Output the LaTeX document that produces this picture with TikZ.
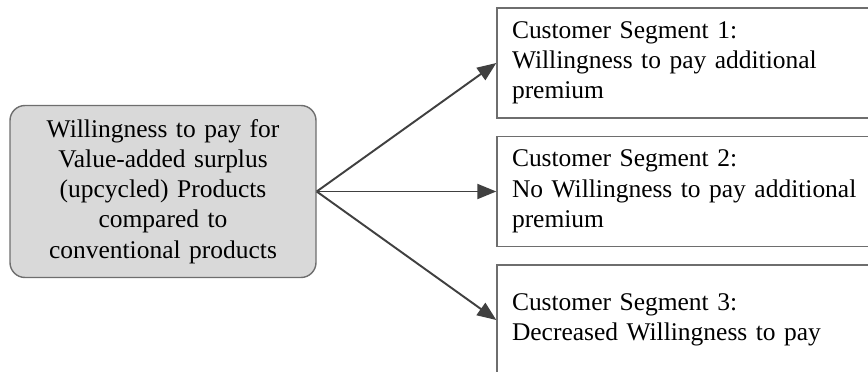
\documentclass[tikz,border=0pt]{standalone}
\usepackage{fontspec}
\setmainfont{Liberation Serif}
\usepackage{tikz}
\usetikzlibrary{arrows.meta, positioning}
\definecolor{boxgray}{RGB}{217, 217, 217}
\definecolor{edgegray}{RGB}{110, 110, 110}
\definecolor{arrowgray}{RGB}{64, 64, 64}

\begin{document}
\begin{tikzpicture}[
    mainbox/.style={rectangle, rounded corners=0.3cm,
        minimum width=6.12cm, minimum height=3.44cm,
        text width=5.8cm, align=center, inner sep=0pt,
        font=\fontsize{14.5}{17.2}\selectfont,
        fill=boxgray, draw=edgegray, line width=0.8pt},
    segbox/.style={rectangle,
        minimum width=7.5cm, minimum height=2.2cm,
        text width=6.9cm, align=left, inner xsep=0.3cm, inner ysep=0pt,
        font=\fontsize{14.5}{17.2}\selectfont,
        fill=white, draw=edgegray, line width=0.8pt},
    segarrow/.style={-{Triangle[length=0.38cm, width=0.3cm]},
        line width=1.1pt, color=arrowgray},
]
\useasboundingbox (0,0) rectangle (17.36,-7.42);

% ── SOURCE ──────────────────────────────────────────────────────────────────
\node[mainbox] at (3.26, -3.83) (wtp) {Willingness to pay for\\Value-added surplus\\(upcycled) Products\\compared to\\conventional products};

% ── CUSTOMER SEGMENTS ───────────────────────────────────────────────────────
\node[segbox] at (13.69, -1.26) (seg1) {Customer Segment 1:\\Willingness to pay additional\\premium};
\node[segbox] at (13.69, -3.83) (seg2) {Customer Segment 2:\\No Willingness to pay additional\\premium};
\node[segbox] at (13.69, -6.40) (seg3) {Customer Segment 3:\\Decreased Willingness to pay};

\draw[segarrow] (wtp.east) -- (seg1.west);
\draw[segarrow] (wtp.east) -- (seg2.west);
\draw[segarrow] (wtp.east) -- (seg3.west);

\end{tikzpicture}
\end{document}
